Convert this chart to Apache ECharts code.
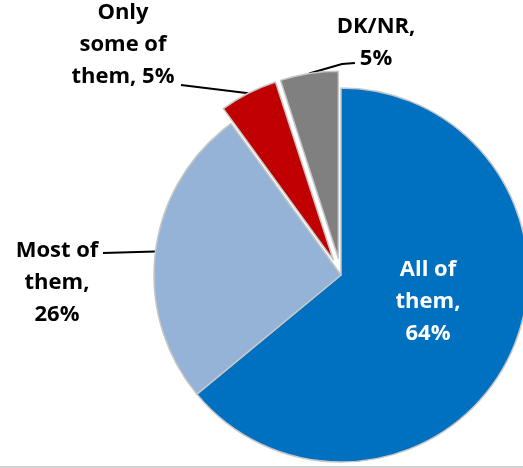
<!DOCTYPE html>
<html>
<head>
<meta charset="utf-8">
<style>
  html, body { margin: 0; padding: 0; background: #ffffff; }
  #chart { width: 523px; height: 468px; }
</style>
<script src="https://cdn.jsdelivr.net/npm/echarts@6/dist/echarts.min.js"></script>
</head>
<body>
<div id="chart"></div>
<script>
// Share of answers, clockwise from 12 o'clock
const categories = ['All of\nthem', 'Most of\nthem', 'Only\nsome of\nthem', 'DK/NR'];
const values = [64, 26, 5, 5];
const valueJoin = [',\n', ',\n', ', ', ',\n'];
const sliceColors = ['#0070C0', '#95B3D7', '#C00000', '#808080'];
const pulledOut = [false, false, true, true];

// Where each label's text block sits, and the bend points of its leader line
const labelSpots = [
  { x: 428, y: 302 },
  { x: 57, y: 283, line: [[103, 253]] },
  { x: 123, y: 45, line: [[181, 85]] },
  { x: 376, y: 43, line: [[342, 64], [355, 63]] }
];

const pieCenter = [341, 275];
const pieRadius = 187;
const pullDistance = 17;
const font = '"Open Sans", "Noto Sans", sans-serif';

const chart = echarts.init(document.getElementById('chart'), null, { renderer: 'canvas' });

const labelFormatter = p => p.name + valueJoin[p.dataIndex] + p.value + '%';

// Visible slices; the pulled-out ones carry no label of their own
const sliceData = categories.map((name, i) => ({
  name: name,
  value: values[i],
  selected: pulledOut[i],
  itemStyle: { color: sliceColors[i] },
  label: i === 0
    ? { show: true, position: 'inside', color: '#ffffff' }
    : { show: !pulledOut[i], position: 'outside', color: '#000000' },
  labelLine: { show: i !== 0 && !pulledOut[i] }
}));

// Same pie again, unfilled, only to hold the labels of the pulled-out slices
const labelData = categories.map((name, i) => ({
  name: name,
  value: values[i],
  label: { show: pulledOut[i], position: 'outside', color: '#000000' },
  labelLine: { show: pulledOut[i] }
}));

const commonLabel = {
  fontFamily: font,
  fontWeight: 'bold',
  fontSize: 22,
  lineHeight: 32,
  align: 'center',
  formatter: labelFormatter
};

const leaderStyle = { lineStyle: { color: '#000000', width: 2 } };

function placeLabel(params, shiftStart) {
  const spot = labelSpots[params.dataIndex];
  const out = { x: spot.x, y: spot.y, align: 'center', verticalAlign: 'middle' };
  if (spot.line && params.labelLinePoints) {
    let p0 = params.labelLinePoints[0].slice();
    if (shiftStart) {
      const vx = p0[0] - pieCenter[0];
      const vy = p0[1] - pieCenter[1];
      const len = Math.sqrt(vx * vx + vy * vy) || 1;
      p0 = [p0[0] + vx / len * pullDistance, p0[1] + vy / len * pullDistance];
    }
    out.labelLinePoints = [p0].concat(spot.line);
  }
  return out;
}

chart.setOption({
  backgroundColor: '#ffffff',
  animation: false,
  graphic: [{
    type: 'rect',
    shape: { x: 0, y: 466, width: 523, height: 2 },
    style: { fill: '#d0d0d0' },
    silent: true
  }],
  series: [{
    type: 'pie',
    center: pieCenter,
    radius: pieRadius,
    startAngle: 90,
    clockwise: true,
    selectedMode: 'multiple',
    selectedOffset: pullDistance,
    avoidLabelOverlap: false,
    data: sliceData,
    itemStyle: { borderColor: '#c6c6c6', borderWidth: 1.5 },
    label: commonLabel,
    labelLine: leaderStyle,
    labelLayout: params => placeLabel(params, false),
    emphasis: { disabled: true },
    select: { itemStyle: {} }
  }, {
    type: 'pie',
    center: pieCenter,
    radius: pieRadius,
    startAngle: 90,
    clockwise: true,
    silent: true,
    avoidLabelOverlap: false,
    data: labelData,
    itemStyle: { color: 'rgba(0,0,0,0)', borderWidth: 0 },
    label: commonLabel,
    labelLine: leaderStyle,
    labelLayout: params => placeLabel(params, true),
    emphasis: { disabled: true }
  }]
});
</script>
</body>
</html>
